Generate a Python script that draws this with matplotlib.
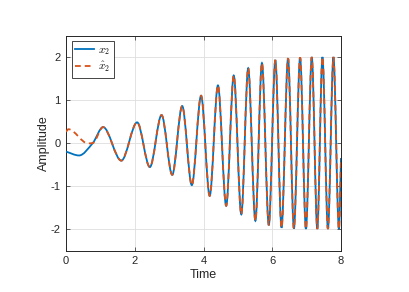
import numpy as np
import matplotlib
matplotlib.use('Agg')
import matplotlib.pyplot as plt
from matplotlib.path import Path
from matplotlib.patches import PathPatch
from matplotlib.lines import Line2D

# ---- data (knots: start, extrema, end) ----
t_x2 = [0.00, 0.38, 0.78, 1.08, 1.61, 2.07, 2.44, 2.78, 3.09, 3.38, 3.66, 3.93,
        4.18, 4.42, 4.66, 4.88, 5.10, 5.30, 5.51, 5.70, 5.90, 6.09, 6.27, 6.46,
        6.63, 6.81, 6.98, 7.15, 7.31, 7.46, 7.62, 7.78, 7.94, 8.00]
v_x2 = [-0.20, -0.29, 0.00, 0.37, -0.41, 0.48, -0.56, 0.65, -0.74, 0.86, -0.98, 1.10,
        -1.23, 1.34, -1.46, 1.57, -1.66, 1.74, -1.81, 1.86, -1.91, 1.93, -1.97, 1.97,
        -1.99, 1.99, -2.00, 2.00, -2.00, 2.00, -2.00, 2.00, -2.00, -0.35]

# estimate: own transient at the start, then follows x2
t_est_start = [0.00, 0.07, 0.64, 0.78]
v_est_start = [0.26, 0.32, -0.01, 0.00]

x_ticks = [0, 2, 4, 6, 8]
y_ticks = [-2, -1, 0, 1, 2]
labels = [r'$x_2$', r'$\hat{x}_2$']
colors = ['#0072BD', '#D95319']


def smooth_path(t, v):
    """Monotone cubic (PCHIP-style) curve through the knots, as a Bezier path."""
    t = np.asarray(t, float)
    v = np.asarray(v, float)
    h = np.diff(t)
    d = np.diff(v) / h
    n = len(t)
    m = np.zeros(n)
    for k in range(1, n - 1):
        if d[k - 1] * d[k] > 0:
            w1 = 2 * h[k] + h[k - 1]
            w2 = h[k] + 2 * h[k - 1]
            m[k] = (w1 + w2) / (w1 / d[k - 1] + w2 / d[k])
    m[0] = d[0]
    m[-1] = d[-1]
    verts = [(t[0], v[0])]
    codes = [Path.MOVETO]
    for k in range(n - 1):
        dt = h[k] / 3.0
        verts += [(t[k] + dt, v[k] + m[k] * dt),
                  (t[k + 1] - dt, v[k + 1] - m[k + 1] * dt),
                  (t[k + 1], v[k + 1])]
        codes += [Path.CURVE4] * 3
    return Path(verts, codes)


plt.rcParams['font.family'] = ['Liberation Sans', 'DejaVu Sans']
plt.rcParams['mathtext.fontset'] = 'cm'
plt.rcParams['axes.unicode_minus'] = False

LW = 1.3
DASH = (0, (3.2, 2.2))

fig = plt.figure(figsize=(4.09, 2.92), dpi=100)
ax = fig.add_axes([66 / 409, 1 - 250.5 / 292, 275 / 409, 215 / 292])

ax.add_patch(PathPatch(smooth_path(t_x2, v_x2), fill=False,
                       edgecolor=colors[0], lw=LW, zorder=3))

idx = next(i for i, tt in enumerate(t_x2) if tt > t_est_start[-1])
t_est = t_est_start + t_x2[idx:]
v_est = v_est_start + v_x2[idx:]
ax.add_patch(PathPatch(smooth_path(t_est, v_est), fill=False,
                       edgecolor=colors[1], lw=LW, linestyle=DASH, zorder=4))

ax.set_xlim(0, 8)
ax.set_ylim(-2.5, 2.5)
ax.set_xticks(x_ticks)
ax.set_yticks(y_ticks)
ax.grid(True, color='#dedede', lw=0.6)
ax.set_axisbelow(True)
ax.tick_params(direction='in', top=True, right=True, length=3, width=0.5,
               colors='#262626', labelsize=8, pad=4)
for s in ax.spines.values():
    s.set_color('#262626')
    s.set_linewidth(0.7)

ax.set_xlabel('Time', fontsize=9, color='#262626', labelpad=2)
ax.set_ylabel('Amplitude', fontsize=9, color='#262626', labelpad=0)

handles = [Line2D([], [], color=colors[0], lw=LW),
           Line2D([], [], color=colors[1], lw=LW, linestyle=DASH)]
leg = ax.legend(handles, labels, loc='upper left', fontsize=8, fancybox=False,
                edgecolor='#262626', framealpha=1, handlelength=1.7,
                handletextpad=0.3, borderpad=0.35, labelspacing=0.3,
                borderaxespad=0.5)
leg.get_frame().set_linewidth(0.6)

fig.savefig('out.png', dpi=100)
